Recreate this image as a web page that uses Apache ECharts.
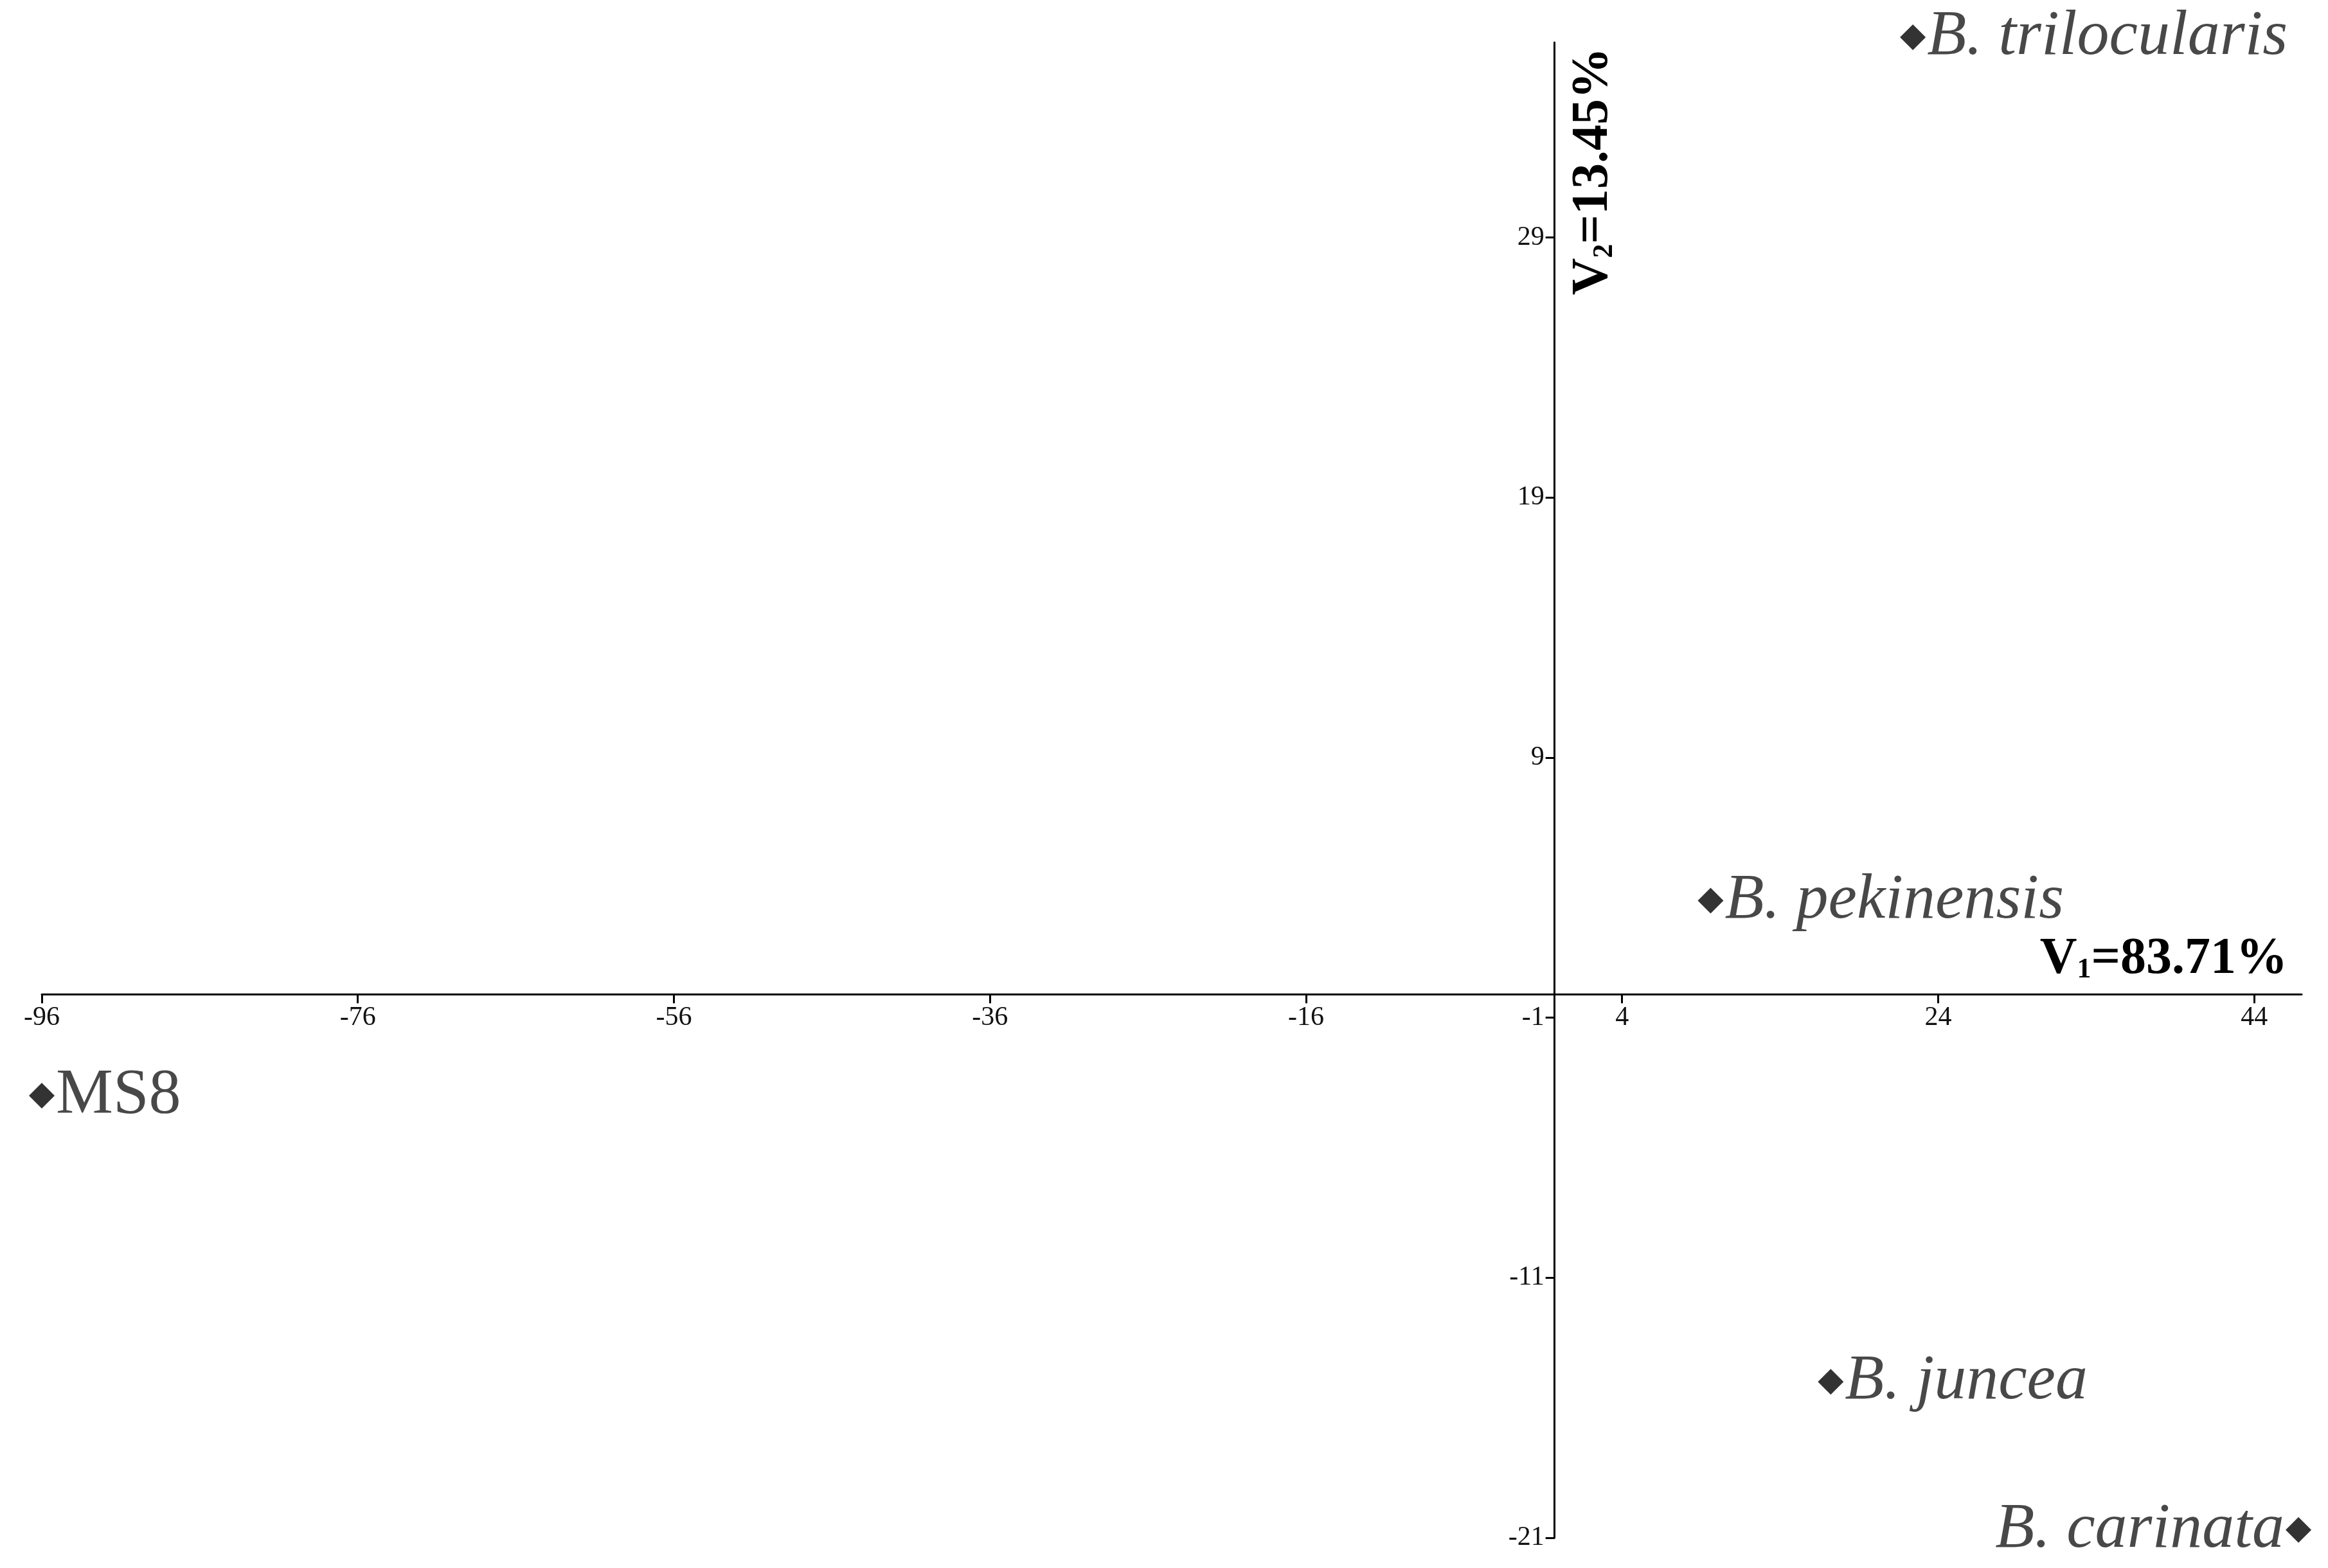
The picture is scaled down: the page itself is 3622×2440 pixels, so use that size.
<!DOCTYPE html>
<html><head><meta charset="utf-8">
<script src="https://cdn.jsdelivr.net/npm/echarts@6/dist/echarts.min.js"></script>
<style>html,body{margin:0;background:#fff}#c{width:3622px;height:2440px}</style>
</head><body><div id="c"></div>
<script>
const names = ['B. trilocularis','B. pekinensis','MS8','B. juncea','B. carinata'];
const xVals = [22.4, 9.6, -96, 17.2, 46.8];
const yVals = [36.7, 3.5, -4.0, -15.0, -20.7];
const italic = [true, true, false, true, true];
const labelLeft = [false, false, false, false, true];
const xTitle = ['V', '1', '=83.71%'];
const yTitle = ['V', '2', '=13.45%'];

const font = 'Liberation Serif';
const chart = echarts.init(document.getElementById('c'));
const data = names.map((n,i)=>({
  value:[xVals[i], yVals[i]], name:n,
  label:{position: labelLeft[i]?'left':'right', fontStyle: italic[i]?'italic':'normal', distance: 2}
}));
const axisCommon = {
  axisLine:{onZero:false,lineStyle:{color:'#000',width:3}},
  axisTick:{show:true,length:14,lineStyle:{color:'#000',width:3}},
  splitLine:{show:false},
  axisLabel:{showMaxLabel:false,fontFamily:font,fontSize:42,color:'#111',margin:16}
};
chart.setOption({
  backgroundColor:'#fff',
  animation:false,
  grid:{left:65,right:41,top:66,bottom:47},
  xAxis:Object.assign({type:'value',min:-96,max:47,interval:20},axisCommon),
  yAxis:Object.assign({type:'value',min:-21,max:36.5,interval:10},axisCommon),
  series:[{type:'scatter',symbol:'diamond',symbolSize:40,clip:false,
    itemStyle:{color:'#000'},
    label:{show:true,formatter:'{b}',fontFamily:font,fontSize:100,color:'#1a1a1a'},
    data}]
});
const origin = chart.convertToPixel({gridIndex:0},[0,0]);
const bottomY = chart.convertToPixel({gridIndex:0},[0,-21])[1];
const leftX = chart.convertToPixel({gridIndex:0},[-96,0])[0];
chart.setOption({xAxis:{offset:-(bottomY-origin[1])}, yAxis:{offset:-(origin[0]-leftX)}});
const xEnd = chart.convertToPixel({gridIndex:0},[47,0]);
const yTop = chart.convertToPixel({gridIndex:0},[0,36.5]);
const rich = {a:{fontFamily:font,fontWeight:'bold',fontSize:80,color:'#1a1a1a'},
  s:{fontFamily:font,fontWeight:'bold',fontSize:44,color:'#1a1a1a',padding:[34,0,0,0]}};
const fmt = t => `{a|${t[0]}}{s|${t[1]}}{a|${t[2]}}`;
chart.setOption({graphic:[
  {type:'text',x:xEnd[0]-22,y:xEnd[1]-10,style:{text:fmt(xTitle),rich,align:'right',verticalAlign:'bottom'}},
  {type:'text',x:yTop[0]+14,y:yTop[1]+8,rotation:Math.PI/2,style:{text:fmt(yTitle),rich,align:'right',verticalAlign:'top'}}
]});
</script></body></html>
